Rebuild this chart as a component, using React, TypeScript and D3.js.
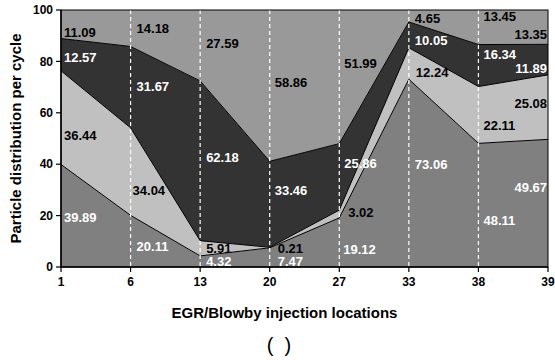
import React from "react"
import * as d3 from "d3"

const categories = ["1", "6", "13", "20", "27", "33", "38", "39"]
const yTicks = [0, 20, 40, 60, 80, 100]

// layers bottom -> top
const bottomVals = [39.89, 20.11, 4.32, 7.47, 19.12, 73.06, 48.11, 49.67]
const lightVals = [36.44, 34.04, 5.91, 0.21, 3.02, 12.24, 22.11, 25.08]
const darkVals = [12.57, 31.67, 62.18, 33.46, 25.86, 10.05, 16.34, 11.89]
const topVals = [11.09, 14.18, 27.59, 58.86, 51.99, 4.65, 13.45, 13.35]

// label anchors in data units (baseline), plus x nudges in px
const bottomLabelY = [17.5, 6.2, 0.4, 0.4, 5, 38, 16.3, 29]
const lightLabelY = [49.4, 28, 5.4, 5.4, 19.5, 74, 53.3, 61.9]
const darkLabelY = [79.8, 68.5, 40.9, 28, 38.5, 86.4, 81, 75.5]
const topLabelY = [89.5, 91, 85.2, 70, 77.4, 95, 95.7, 88.7]
const bottomDx = [3, 6, 6, 8, 4, 6, 5, -1]
const lightDx = [3, 2, 6, 8, 9, 7, 5, -1]
const darkDx = [3, 6, 6, 5, 5, 6, 5, -1]
const topDx = [3, 6, 6, 5, 5, 6, 5, -1]

const W = 555
const H = 360
const M = { top: 10, right: 7, bottom: 93, left: 61 }
const FONT = "'Liberation Sans', Arial, sans-serif"

const layers = [
  { key: "bottom", vals: bottomVals, fill: "#808080", text: "#ffffff", ly: bottomLabelY, dx: bottomDx },
  { key: "light", vals: lightVals, fill: "#c0c0c0", text: "#000000", ly: lightLabelY, dx: lightDx },
  { key: "dark", vals: darkVals, fill: "#333333", text: "#ffffff", ly: darkLabelY, dx: darkDx },
  { key: "top", vals: topVals, fill: "#999999", text: "#000000", ly: topLabelY, dx: topDx },
]

export default function App() {
  const innerW = W - M.left - M.right
  const innerH = H - M.top - M.bottom

  const x = d3.scalePoint<string>().domain(categories).range([0, innerW])
  const y = d3.scaleLinear().domain([0, 100]).range([innerH, 0])

  const rows = categories.map((c, i) => {
    const r: Record<string, any> = { cat: c }
    layers.forEach((l) => (r[l.key] = l.vals[i]))
    return r
  })
  const stacked = d3.stack<any>().keys(layers.map((l) => l.key))(rows)

  const area = d3
    .area<any>()
    .x((d) => x(d.data.cat)!)
    .y0((d) => y(d[0]))
    .y1((d) => y(d[1]))
  const line = d3
    .line<any>()
    .x((d) => x(d.data.cat)!)
    .y((d) => y(Math.min(d[1], 100)))

  return (
    <svg width={W} height={H} style={{ position: "absolute", left: 0, top: 0, fontFamily: FONT }}>
      <g transform={`translate(${M.left},${M.top})`}>
        {stacked.map((s, i) => (
          <path key={s.key} d={area(s) ?? ""} fill={layers[i].fill} />
        ))}
        {stacked.slice(0, 3).map((s) => (
          <path key={"l" + s.key} d={line(s) ?? ""} fill="none" stroke="#000" strokeWidth={1} />
        ))}

        {/* dashed category guides */}
        {categories.slice(1, -1).map((c) => (
          <line
            key={"g" + c}
            x1={x(c)}
            x2={x(c)}
            y1={0}
            y2={innerH}
            stroke="#ffffff"
            strokeWidth={1.2}
            strokeDasharray="4,3"
          />
        ))}

        {/* value labels */}
        {layers.map((l) =>
          l.vals.map((v, i) => {
            const last = i === categories.length - 1
            return (
              <text
                key={l.key + i}
                x={x(categories[i])! + l.dx[i]}
                y={y(l.ly[i])}
                fill={l.text}
                fontSize={13}
                fontWeight="bold"
                textAnchor={last ? "end" : "start"}
              >
                {v.toFixed(2)}
              </text>
            )
          })
        )}

        <rect x={0} y={0} width={innerW} height={innerH} fill="none" stroke="#000" strokeWidth={1} />

        {/* y axis */}
        <line x1={0} x2={0} y1={0} y2={innerH} stroke="#000" strokeWidth={1.5} />
        {yTicks.map((t) => (
          <g key={"y" + t} transform={`translate(0,${y(t)})`}>
            <line x1={-5} x2={0} stroke="#000" strokeWidth={1.2} />
            <text x={-8} dy="0.35em" textAnchor="end" fontSize={12} fontWeight="bold">
              {t}
            </text>
          </g>
        ))}

        {/* x axis */}
        <line x1={0} x2={innerW} y1={innerH} y2={innerH} stroke="#000" strokeWidth={1.5} />
        {categories.map((c) => (
          <g key={"x" + c} transform={`translate(${x(c)},${innerH})`}>
            <line y1={0} y2={5} stroke="#000" strokeWidth={1.2} />
            <text y={19} textAnchor="middle" fontSize={12} fontWeight="bold">
              {c}
            </text>
          </g>
        ))}

        <text
          transform={`translate(${-40},${innerH / 2}) rotate(-90)`}
          textAnchor="middle"
          fontSize={15}
          fontWeight="bold"
        >
          Particle distribution per cycle
        </text>
        <text x={innerW / 2 - 20} y={innerH + 51} textAnchor="middle" fontSize={15} fontWeight="bold">
          EGR/Blowby injection locations
        </text>
      </g>
      <text x={279} y={352} textAnchor="middle" fontSize={20}>
        {"(\u00a0\u00a0)"}
      </text>
    </svg>
  )
}
